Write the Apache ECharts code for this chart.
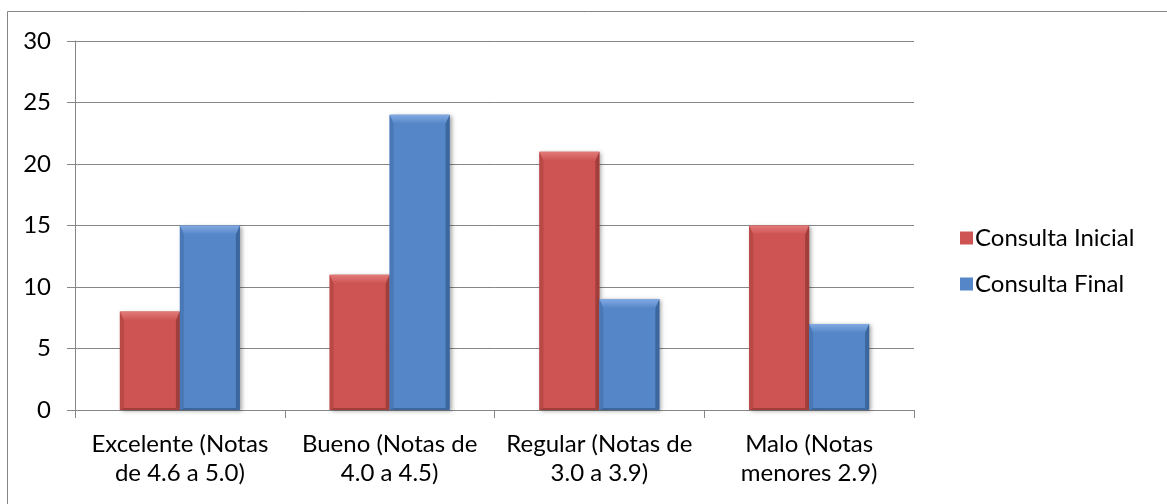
<!DOCTYPE html>
<html><head><meta charset="utf-8">
<script src="https://cdn.jsdelivr.net/npm/echarts@6/dist/echarts.min.js"></script>
<style>html,body{margin:0;padding:0;background:#fff}#c{width:1167px;height:504px}</style>
</head><body><div id="c"></div>
<script>
const categories = ['Excelente (Notas\nde 4.6 a 5.0)', 'Bueno (Notas de\n4.0 a 4.5)', 'Regular (Notas de\n3.0 a 3.9)', 'Malo (Notas\nmenores 2.9)'];
const inicial = [8, 11, 21, 15];
const final = [15, 24, 9, 7];
const yTicks = { min: 0, max: 30, interval: 5 };

const FONT = 'Lato';
const PAL = {
  red: { mid: '#CD5452', light: '#E27B79', dark: '#A13E3C', edge: '#B84947' },
  blue: { mid: '#5586C8', light: '#82AAE2', dark: '#3B669E', edge: '#4A78B6' }
};
function bevelRender(pal, side) {
  return function (params, api) {
    const idx = api.value(0);
    const top = api.coord([idx, api.value(1)]);
    const base = api.coord([idx, 0]);
    const band = api.size([1, 0])[0];
    const w = band * 0.286;
    const x0 = side < 0 ? top[0] - w : top[0];
    const x1 = x0 + w;
    const y0 = top[1], y1 = base[1];
    const h = y1 - y0;
    const b = Math.min(9, h / 2), s = 4;
    return {
      type: 'group',
      children: [
        { type: 'rect', shape: { x: x0, y: y0, width: w, height: h },
          style: { fill: pal.mid, shadowColor: 'rgba(0,0,0,0.35)', shadowBlur: 4, shadowOffsetX: 2, shadowOffsetY: 1 } },
        { type: 'polygon', shape: { points: [[x0, y0], [x1, y0], [x1 - s, y0 + b], [x0 + s, y0 + b]] },
          style: { fill: new echarts.graphic.LinearGradient(0, 0, 0, 1, [{ offset: 0, color: pal.light }, { offset: 1, color: pal.mid }]) } },
        { type: 'polygon', shape: { points: [[x1, y0], [x1, y1], [x1 - s, y1 - 2], [x1 - s, y0 + b]] }, style: { fill: pal.dark } },
        { type: 'polygon', shape: { points: [[x0, y0], [x0 + s, y0 + b], [x0 + s, y1 - 2], [x0, y1]] }, style: { fill: pal.edge } },
        { type: 'polygon', shape: { points: [[x0, y1], [x0 + s, y1 - 2], [x1 - s, y1 - 2], [x1, y1]] }, style: { fill: pal.dark } }
      ]
    };
  };
}
const chart = echarts.init(document.getElementById('c'));
chart.setOption({
  animation: false,
  backgroundColor: '#fff',
  graphic: [{ type: 'rect', shape: { x: 7.5, y: 11.5, width: 1170, height: 500 }, style: { fill: 'none', stroke: '#868686', lineWidth: 1 }, z: -1 }],
  grid: { left: 75, right: 253, top: 41, bottom: 94 },
  legend: {
    orient: 'vertical', left: 955, top: 221, itemGap: 22, itemWidth: 13, itemHeight: 13,
    icon: 'rect',
    textStyle: { fontFamily: FONT, fontSize: 24, color: '#000', padding: [0, 0, 0, -3] },
    data: ['Consulta Inicial', 'Consulta Final']
  },
  xAxis: {
    type: 'category', data: categories,
    axisLine: { lineStyle: { color: '#868686', width: 1 } },
    axisTick: { show: true, length: 8, lineStyle: { color: '#868686' } },
    axisLabel: { fontFamily: FONT, fontSize: 24, color: '#000', lineHeight: 29, margin: 20, interval: 0 }
  },
  yAxis: {
    type: 'value', min: yTicks.min, max: yTicks.max, interval: yTicks.interval,
    axisLine: { show: true, lineStyle: { color: '#868686' } },
    axisTick: { show: true, length: 8, lineStyle: { color: '#868686' } },
    splitLine: { lineStyle: { color: '#868686', width: 1 } },
    axisLabel: { fontFamily: FONT, fontSize: 24, color: '#000', margin: 24 }
  },
  series: [
    { name: 'Consulta Inicial', type: 'custom', renderItem: bevelRender(PAL.red, -1),
      itemStyle: { color: PAL.red.mid }, encode: { x: 0, y: 1 },
      data: inicial.map((v, i) => [i, v]) },
    { name: 'Consulta Final', type: 'custom', renderItem: bevelRender(PAL.blue, 1),
      itemStyle: { color: PAL.blue.mid }, encode: { x: 0, y: 1 },
      data: final.map((v, i) => [i, v]) }
  ]
});
</script></body></html>
